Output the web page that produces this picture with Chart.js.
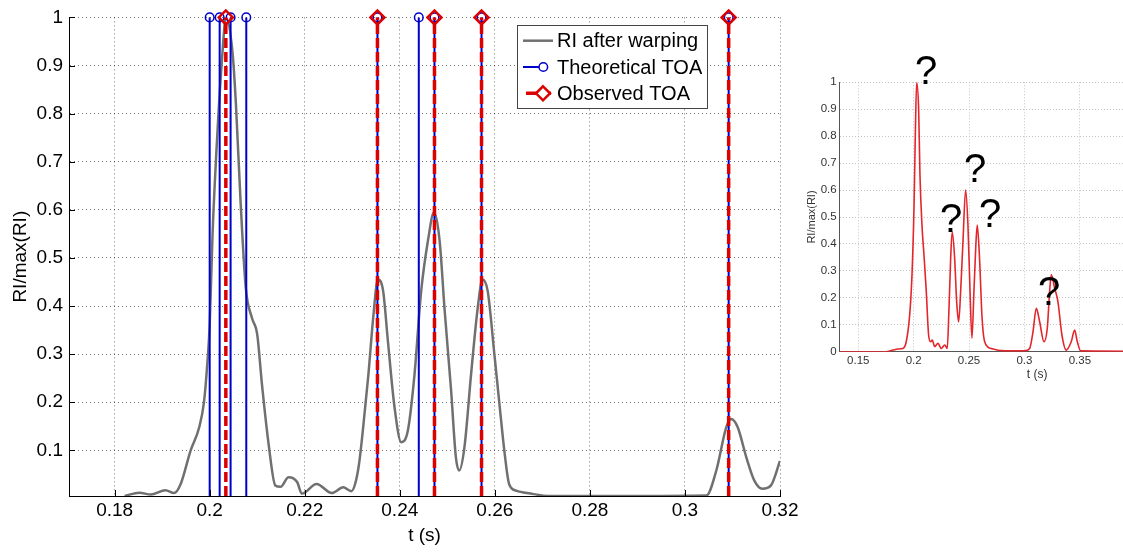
<!DOCTYPE html>
<html>
<head>
<meta charset="utf-8">
<script src="https://cdn.jsdelivr.net/npm/chart.js@4.4.1/dist/chart.umd.min.js"></script>
<style>
  html, body { margin: 0; padding: 0; background: #fff; overflow: hidden; }
  body { width: 1123px; height: 552px; position: relative; font-family: 'Liberation Sans', Arial, sans-serif; }
  #main { position: absolute; left: 0; top: 0; }
  #inset { position: absolute; left: 800px; top: 50px; }
  .q { position: absolute; font-size: 40px; line-height: 40px; color: #000; }
</style>
</head>
<body>
<canvas id="main" width="810" height="552"></canvas>
<canvas id="inset" width="440" height="345"></canvas>
<div class="q" style="left:915px;top:50px">?</div>
<div class="q" style="left:964px;top:148px">?</div>
<div class="q" style="left:940px;top:198px">?</div>
<div class="q" style="left:979px;top:193px">?</div>
<div class="q" style="left:1038px;top:271px">?</div>
<script>
// ---- main chart: RI after warping + TOA stems ----
const tWarped = [0.1821, 0.1852, 0.1876, 0.1907, 0.1925, 0.1939, 0.1960, 0.1978, 0.1988, 0.1995,
  0.2000, 0.2006, 0.2016, 0.2027, 0.2034, 0.2048, 0.2055, 0.2065, 0.2076, 0.2089,
  0.2100, 0.2110, 0.2124, 0.2138, 0.2149, 0.2166, 0.2184, 0.2194, 0.2225, 0.2257,
  0.2281, 0.2298, 0.2306, 0.2314, 0.2323, 0.2334, 0.2344, 0.2354, 0.2365, 0.2375,
  0.2389, 0.2403, 0.2417, 0.2431, 0.2445, 0.2459, 0.2472, 0.2484, 0.2494, 0.2508,
  0.2518, 0.2525, 0.2536, 0.2550, 0.2564, 0.2574, 0.2585, 0.2599, 0.2609, 0.2620,
  0.2630, 0.2645, 0.2675, 0.2717, 0.2877, 0.3045, 0.3066, 0.3087, 0.3097, 0.3111,
  0.3129, 0.3146, 0.3163, 0.3181, 0.3200];
const riWarped = [0.005, 0.012, 0.008, 0.017, 0.011, 0.030, 0.100, 0.148, 0.200, 0.280,
  0.360, 0.548, 0.755, 0.928, 1.000, 0.928, 0.824, 0.617, 0.437, 0.375,
  0.341, 0.237, 0.113, 0.027, 0.024, 0.044, 0.034, 0.010, 0.030, 0.011,
  0.023, 0.015, 0.030, 0.070, 0.148, 0.258, 0.375, 0.455, 0.431, 0.327,
  0.189, 0.117, 0.141, 0.258, 0.431, 0.534, 0.595, 0.534, 0.396, 0.224,
  0.086, 0.058, 0.106, 0.258, 0.396, 0.455, 0.431, 0.300, 0.203, 0.099,
  0.030, 0.016, 0.010, 0.005, 0.005, 0.006, 0.058, 0.148, 0.165, 0.148,
  0.086, 0.037, 0.020, 0.027, 0.078];
const theoreticalToa = [0.2000, 0.2021, 0.2044, 0.2077, 0.2353, 0.2440, 0.2473, 0.2572, 0.3092];
const observedToa = [0.2034, 0.2353, 0.2473, 0.2572, 0.3092];
const legendLabels = ['RI after warping', 'Theoretical TOA', 'Observed TOA'];
const xTicks = [0.18, 0.2, 0.22, 0.24, 0.26, 0.28, 0.3, 0.32];
const xTickLabels = ['0.18', '0.2', '0.22', '0.24', '0.26', '0.28', '0.3', '0.32'];
const yTicks = [0.1, 0.2, 0.3, 0.4, 0.5, 0.6, 0.7, 0.8, 0.9, 1];
const yTickLabels = ['0.1', '0.2', '0.3', '0.4', '0.5', '0.6', '0.7', '0.8', '0.9', '1'];
const X_MIN = 0.1704, X_MAX = 0.32, Y_MIN = 0.005, Y_MAX = 1;

// ---- inset: raw RI ----
const tRaw = [0.1330, 0.1750, 0.1813, 0.1858, 0.1903, 0.1933, 0.1964, 0.1985, 0.2003, 0.2014,
  0.2027, 0.2045, 0.2057, 0.2075, 0.2093, 0.2114, 0.2135, 0.2153, 0.2168, 0.2190,
  0.2219, 0.2249, 0.2280, 0.2303, 0.2319, 0.2334, 0.2348, 0.2370, 0.2388, 0.2406,
  0.2424, 0.2445, 0.2469, 0.2490, 0.2508, 0.2526, 0.2544, 0.2560, 0.2574, 0.2596,
  0.2616, 0.2641, 0.2700, 0.2821, 0.3002, 0.3047, 0.3077, 0.3107, 0.3137, 0.3176,
  0.3206, 0.3227, 0.3242, 0.3273, 0.3302, 0.3338, 0.3377, 0.3422, 0.3453, 0.3477,
  0.3507, 0.4900];
const riRaw = [0, 0, 0.006, 0.010, 0.012, 0.037, 0.136, 0.285, 0.532, 0.780,
  1.000, 0.900, 0.656, 0.470, 0.360, 0.223, 0.062, 0.037, 0.043, 0.019,
  0.031, 0.012, 0.025, 0.012, 0.161, 0.347, 0.445, 0.347, 0.186, 0.111,
  0.223, 0.408, 0.600, 0.470, 0.235, 0.050, 0.223, 0.384, 0.470, 0.334,
  0.136, 0.037, 0.012, 0.003, 0.003, 0.012, 0.074, 0.161, 0.111, 0.037,
  0.087, 0.223, 0.285, 0.235, 0.186, 0.062, 0.006, 0.037, 0.080, 0.037,
  0.003, 0];
const insetXTicks = [0.15, 0.2, 0.25, 0.3, 0.35, 0.4, 0.45];
const insetXTickLabels = ['0.15', '0.2', '0.25', '0.3', '0.35', '0.4', '0.45'];
const insetYTicks = [0, 0.1, 0.2, 0.3, 0.4, 0.5, 0.6, 0.7, 0.8, 0.9, 1];
const insetYTickLabels = ['0', '0.1', '0.2', '0.3', '0.4', '0.5', '0.6', '0.7', '0.8', '0.9', '1'];

const FONT = "'Liberation Sans', Arial, Helvetica, sans-serif";
const GRAY = '#707070', BLUE = '#0000cc', RED = '#dd0000';
Chart.defaults.font.family = FONT;

// stems: bottom -> top, null breaks the line between stems
function stems(times) {
  return times.flatMap(t => [{x: t, y: Y_MIN}, {x: t, y: Y_MAX}, {x: t, y: null}]);
}
const topOnly = r => ctx => (ctx.raw && ctx.raw.y === Y_MAX ? r : 0);

// inward tick marks + legend box like matlab
const matlabExtras = {
  id: 'matlabExtras',
  afterDraw(chart) {
    const {ctx, chartArea: a, scales: {x, y}} = chart;
    ctx.save();
    ctx.strokeStyle = '#000';
    ctx.lineWidth = 1;
    ctx.beginPath();
    xTicks.forEach(v => {
      const px = Math.round(x.getPixelForValue(v)) + 0.5;
      ctx.moveTo(px, a.bottom); ctx.lineTo(px, a.bottom - 6);
    });
    yTicks.forEach(v => {
      const py = Math.round(y.getPixelForValue(v)) + 0.5;
      ctx.moveTo(a.left, py); ctx.lineTo(a.left + 6, py);
    });
    ctx.stroke();

    // legend
    const L = {x: 517, y: 25, w: 190, h: 83};
    ctx.fillStyle = '#fff';
    ctx.fillRect(L.x, L.y, L.w, L.h);
    ctx.strokeStyle = '#444';
    ctx.strokeRect(L.x + 0.5, L.y + 0.5, L.w, L.h);
    ctx.beginPath();
    ctx.rect(L.x, L.y, L.w - 5, L.h);
    ctx.clip();
    const colors = [GRAY, BLUE, RED];
    const widths = [2.5, 2, 3.5];
    legendLabels.forEach((label, i) => {
      const cy = L.y + 15.7 + i * 26.3;
      ctx.setLineDash([]);
      ctx.strokeStyle = colors[i];
      ctx.lineWidth = widths[i];
      ctx.beginPath();
      if (i === 0) { ctx.moveTo(L.x + 6, cy); ctx.lineTo(L.x + 36, cy); }
      if (i === 1) { ctx.moveTo(L.x + 6, cy); ctx.lineTo(L.x + 22, cy); }
      if (i === 2) { ctx.moveTo(L.x + 9, cy); ctx.lineTo(L.x + 20, cy); ctx.moveTo(L.x + 32, cy); ctx.lineTo(L.x + 34, cy); }
      ctx.stroke();
      if (i === 1) {
        ctx.lineWidth = 1.5;
        ctx.beginPath(); ctx.arc(L.x + 26.3, cy, 4.3, 0, Math.PI * 2); ctx.stroke();
      }
      if (i === 2) {
        ctx.lineWidth = 2.5;
        const cx = L.x + 26, r = 7;
        ctx.beginPath();
        ctx.moveTo(cx, cy - r); ctx.lineTo(cx + r, cy); ctx.lineTo(cx, cy + r); ctx.lineTo(cx - r, cy); ctx.closePath();
        ctx.stroke();
      }
      ctx.fillStyle = '#000';
      ctx.font = '20px ' + FONT;
      ctx.textBaseline = 'middle';
      ctx.fillText(label, L.x + 40, cy + 1);
    });
    ctx.restore();
  }
};

new Chart(document.getElementById('main'), {
  type: 'line',
  data: {
    datasets: [
      {
        label: legendLabels[2],
        data: stems(observedToa),
        borderColor: RED,
        borderWidth: 3.5,
        borderDash: [10, 4],
        pointStyle: 'rectRot',
        pointRadius: topOnly(7),
        pointBorderColor: RED,
        pointBackgroundColor: 'rgba(0,0,0,0)',
        pointBorderWidth: 2.5,
        clip: false,
        order: 0
      },
      {
        label: legendLabels[1],
        data: stems(theoreticalToa),
        borderColor: BLUE,
        borderWidth: 2,
        pointStyle: 'circle',
        pointRadius: topOnly(4.3),
        pointBorderColor: BLUE,
        pointBackgroundColor: 'rgba(0,0,0,0)',
        pointBorderWidth: 1.5,
        clip: false,
        order: 1
      },
      {
        label: legendLabels[0],
        data: tWarped.map((t, i) => ({x: t, y: riWarped[i]})),
        borderColor: GRAY,
        borderWidth: 2.5,
        pointRadius: 0,
        cubicInterpolationMode: 'monotone',
        order: 2
      }
    ]
  },
  options: {
    responsive: false,
    animation: false,
    events: [],
    layout: {padding: {top: 15, right: 30, left: 0, bottom: 0}},
    plugins: {legend: {display: false}, tooltip: {enabled: false}},
    scales: {
      x: {
        type: 'linear',
        min: X_MIN,
        max: X_MAX,
        afterBuildTicks: s => { s.ticks = xTicks.map(v => ({value: v})); },
        afterFit: s => { s.height = 56; },
        ticks: {callback: (v, i) => xTickLabels[i], font: {size: 19}, color: '#000', padding: 3, maxRotation: 0, autoSkip: false},
        grid: {color: 'rgba(0,0,0,0.55)', drawTicks: false, lineWidth: 1},
        border: {color: '#000', width: 1, dash: [1, 3]},
        title: {display: true, text: 't (s)', font: {size: 19}, color: '#000', padding: {top: 0, bottom: 5}}
      },
      y: {
        type: 'linear',
        min: Y_MIN,
        max: Y_MAX,
        afterBuildTicks: s => { s.ticks = yTicks.map(v => ({value: v})); },
        afterFit: s => { s.width = 69; },
        ticks: {callback: (v, i) => yTickLabels[i], font: {size: 19}, color: '#000', padding: 6, autoSkip: false},
        grid: {color: 'rgba(0,0,0,0.55)', drawTicks: false, lineWidth: 1},
        border: {color: '#000', width: 1, dash: [1, 3]},
        title: {display: true, text: 'RI/max(RI)', font: {size: 19}, color: '#000', padding: {top: 9, bottom: 0}}
      }
    }
  },
  plugins: [matlabExtras]
});

new Chart(document.getElementById('inset'), {
  type: 'line',
  data: {
    datasets: [{
      label: 'RI',
      data: tRaw.map((t, i) => ({x: t, y: riRaw[i]})),
      borderColor: '#e3262b',
      borderWidth: 1.6,
      pointRadius: 0,
      cubicInterpolationMode: 'monotone'
    }]
  },
  options: {
    responsive: false,
    animation: false,
    events: [],
    layout: {padding: {top: 32.3, right: 5, left: 0, bottom: 0}},
    plugins: {legend: {display: false}, tooltip: {enabled: false}},
    scales: {
      x: {
        type: 'linear',
        min: 0.1329,
        max: 0.49,
        afterBuildTicks: s => { s.ticks = insetXTicks.map(v => ({value: v})); },
        afterFit: s => { s.height = 43.3; },
        ticks: {callback: (v, i) => insetXTickLabels[i], font: {size: 11.5}, color: '#333', padding: 2, maxRotation: 0, autoSkip: false},
        grid: {color: '#c4c4c4', drawTicks: false},
        border: {color: '#555', width: 1, dash: [1, 2]},
        title: {display: true, text: 't (s)', font: {size: 12}, color: '#333', padding: {top: 0, bottom: 12.8}}
      },
      y: {
        type: 'linear',
        min: 0,
        max: 1,
        afterBuildTicks: s => { s.ticks = insetYTicks.map(v => ({value: v})); },
        afterFit: s => { s.width = 39.3; },
        ticks: {callback: (v, i) => insetYTickLabels[i], font: {size: 11.5}, color: '#333', padding: 2.6, autoSkip: false},
        grid: {color: '#c4c4c4', drawTicks: false},
        border: {color: '#555', width: 1, dash: [1, 2]},
        title: {display: true, text: 'RI/max(RI)', font: {size: 11}, color: '#333', padding: {top: 5.4, bottom: 0}}
      }
    }
  }
});
</script>
</body>
</html>
